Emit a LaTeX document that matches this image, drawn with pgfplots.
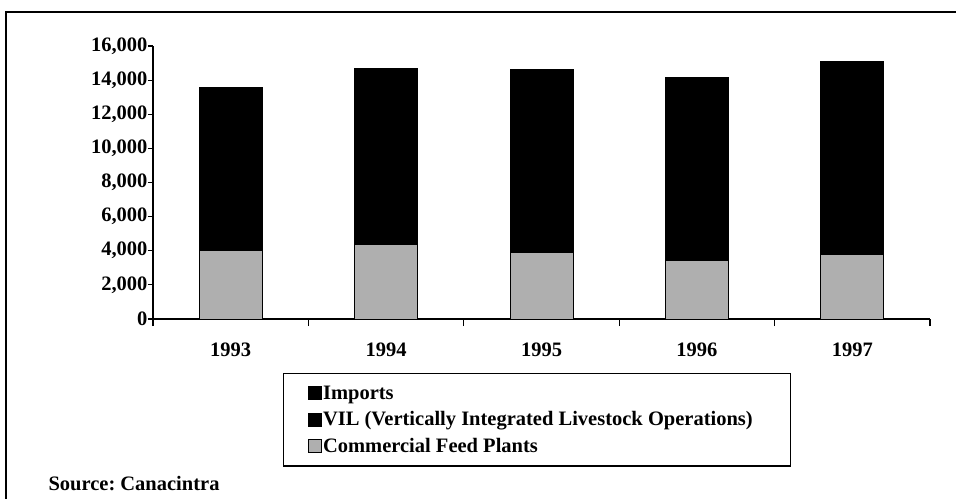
\documentclass[border=0pt]{standalone}
\usepackage{fontspec}
\setmainfont{Liberation Serif}
\usepackage{pgfplots}
\pgfplotsset{compat=1.18}
\begin{document}
\begin{tikzpicture}[x=1bp,y=1bp,font=\fontsize{20.5bp}{24bp}\selectfont\bfseries]
\useasboundingbox (0bp,0bp) rectangle (956bp,499bp);
\draw[line width=1.5bp] (6bp,0bp) -- (6bp,487bp) -- (956bp,487bp);
\begin{axis}[
  at={(153bp,180bp)}, anchor=origin,
  scale only axis, width=777bp, height=273bp,
  xmin=0, xmax=5, ymin=0, ymax=16000,
  axis x line*=bottom, axis y line*=left,
  axis line style={-, line width=1.4bp},
  ybar stacked, bar width=63bp,
  xtick={0.5,1.5,2.5,3.5,4.5},
  xticklabels={1993,1994,1995,1996,1997},
  minor xtick={0,1,2,3,4,5},
  ytick={0,2000,4000,6000,8000,10000,12000,14000,16000},
  scaled y ticks=false,
  /pgf/number format/assume math mode=true,
  /pgf/number format/1000 sep={,},
  tick align=outside,
  major tick length=5bp, minor tick length=7bp,
  x tick style={draw=none},
  minor x tick style={draw=black, line width=1.2bp},
  y tick style={line width=1.2bp, black},
  ticklabel style={font=\fontsize{20.5bp}{24bp}\selectfont\bfseries},
  yticklabel style={xshift=3bp},
  xticklabel style={yshift=-15bp},
  reverse legend,
  legend cell align=left,
  legend image code/.code={\draw[#1, line width=0.5bp] (0bp,-6.5bp) rectangle (13bp,6.5bp);},
  legend style={at={(axis description cs:0.1673,-0.1978)}, anchor=north west,
    draw=black, line width=1.2bp, inner xsep=24bp, inner ysep=10bp,
    font=\fontsize{20.5bp}{24bp}\selectfont\bfseries, row sep=7bp},
]
\addplot[fill={rgb,255:red,175;green,175;blue,175}, draw=black, line width=0.8bp]
  coordinates {(0.5,4000) (1.5,4350) (2.5,3900) (3.5,3450) (4.5,3800)};
\addplot[fill=black, draw=black, line width=0.8bp]
  coordinates {(0.5,9450) (1.5,10250) (2.5,10600) (3.5,10600) (4.5,11200)};
\addplot[fill=black, draw=black, line width=0.8bp]
  coordinates {(0.5,100) (1.5,100) (2.5,100) (3.5,100) (4.5,100)};
\legend{Commercial Feed Plants, VIL (Vertically Integrated Livestock Operations)\rule{12bp}{0pt}, Imports}
\end{axis}
\node[anchor=base west, font=\fontsize{20.5bp}{24bp}\selectfont\bfseries] at (45bp,9bp) {Source:\ Canacintra};
\end{tikzpicture}
\end{document}
